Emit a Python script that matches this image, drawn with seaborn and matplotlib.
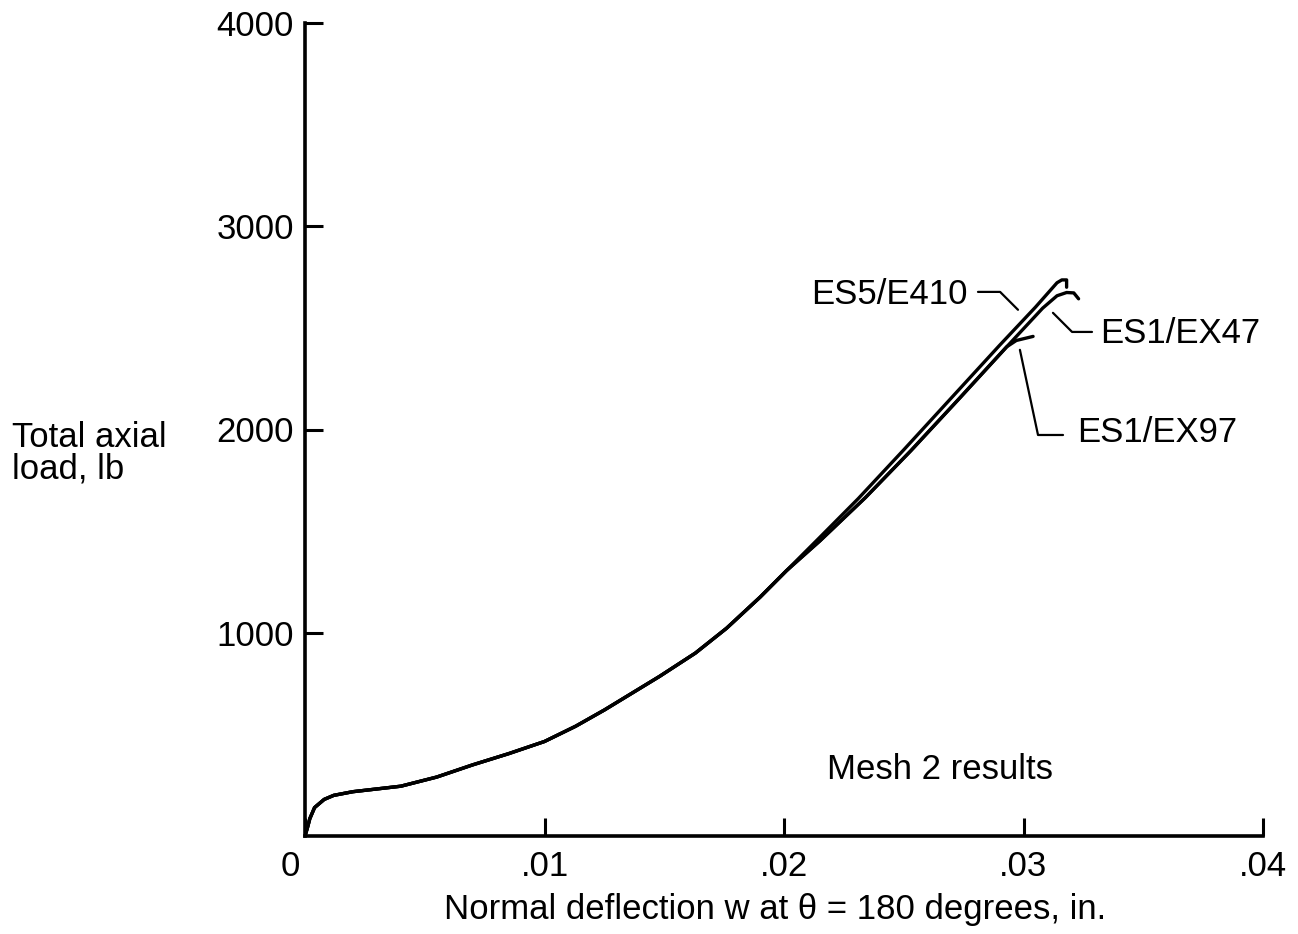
import numpy as np
import pandas as pd
import matplotlib
matplotlib.use("Agg")
import matplotlib.pyplot as plt
import matplotlib.transforms as mtransforms
import seaborn as sns

# --- data (deflection in inches, load in lb) ---
shared_w = [0.0, 0.0001, 0.0002, 0.0004, 0.0008, 0.0012, 0.002, 0.004, 0.0055,
            0.007, 0.0085, 0.010, 0.0113, 0.0125, 0.0148, 0.0163, 0.0176,
            0.019, 0.0201]
shared_p = [0, 40, 85, 140, 180, 200, 218, 245, 290,
            350, 405, 465, 540, 620, 785, 900, 1022,
            1175, 1305]

es5_w = [0.0215, 0.0231, 0.025, 0.027, 0.029, 0.0305, 0.0314, 0.0316, 0.0318, 0.0318]
es5_p = [1470, 1660, 1900, 2157, 2414, 2602, 2722, 2736, 2736, 2700]

ex47_w = [0.0215, 0.0234, 0.0253, 0.0273, 0.0293, 0.0308, 0.0314, 0.0318, 0.0321, 0.0323]
ex47_p = [1452, 1665, 1896, 2150, 2407, 2597, 2658, 2674, 2672, 2643]

ex97_w = [0.0215, 0.0234, 0.0253, 0.0273, 0.0293, 0.0297, 0.0304]
ex97_p = [1452, 1665, 1896, 2150, 2407, 2438, 2458]

cases = ["ES5/E410", "ES1/EX47", "ES1/EX97"]
x_ticks = [0, 0.01, 0.02, 0.03, 0.04]
x_tick_labels = ["0", ".01", ".02", ".03", ".04"]
y_ticks = [1000, 2000, 3000, 4000]

frames = []
for name, w, p in zip(cases, [es5_w, ex47_w, ex97_w], [es5_p, ex47_p, ex97_p]):
    frames.append(pd.DataFrame({"w": shared_w + w, "P": shared_p + p, "case": name}))
df = pd.concat(frames, ignore_index=True)

# --- plot ---
sns.set_style("ticks")
plt.rcParams["font.family"] = ["Liberation Sans", "DejaVu Sans"]
plt.rcParams["text.color"] = "black"
plt.rcParams["axes.labelcolor"] = "black"

fig = plt.figure(figsize=(12.98, 9.34), dpi=100)
ax = fig.add_axes([305 / 1298, 1 - 836 / 934, (1263 - 305) / 1298, (836 - 23) / 934])

sns.lineplot(data=df, x="w", y="P", hue="case", palette=["black"] * 3,
             estimator=None, sort=False, legend=False, linewidth=2.4, ax=ax)

ax.set_xlim(0, 0.04)
ax.set_ylim(0, 4000)
ax.set_xticks(x_ticks)
ax.set_xticklabels(x_tick_labels)
ax.set_yticks(y_ticks)
ax.set_yticklabels([str(v) for v in y_ticks])
sns.despine(ax=ax)
for s in ["left", "bottom"]:
    ax.spines[s].set_linewidth(2.6)
    ax.spines[s].set_color("black")
ax.tick_params(direction="in", length=13, width=2.2, labelsize=25, pad=8,
               colors="black", labelcolor="black")
ax.tick_params(axis="x", pad=10)

# shift the origin label a bit to the left like the original
lbl0 = ax.get_xticklabels()[0]
lbl0.set_transform(lbl0.get_transform() + mtransforms.ScaledTranslation(-15 / 100, 0, fig.dpi_scale_trans))

ax.set_xlabel("Normal deflection w at θ = 180 degrees, in.", fontsize=25, color="black")
ax.xaxis.set_label_coords((775 - 305) / 958, -(893 - 836) / 813)
ax.set_ylabel("")
fig.text(12 / 1298, 1 - 453 / 934, "Total axial\nload, lb", fontsize=25,
         ha="left", va="center", linespacing=0.95, color="black")

ax.text(0.0265, 325, "Mesh 2 results", fontsize=25, ha="center", va="center")

# case labels with leader lines
lead = dict(arrowstyle="-", color="black", lw=1.6, shrinkA=0, shrinkB=0)
ax.text(0.02768, 2665, "ES5/E410", fontsize=25, ha="right", va="center")
ax.annotate("", xy=(0.02977, 2589), xytext=(0.0281, 2677),
            arrowprops=dict(lead, connectionstyle="angle,angleA=0,angleB=135,rad=0"))

ax.text(0.03319, 2470, "ES1/EX47", fontsize=25, ha="left", va="center")
ax.annotate("", xy=(0.03123, 2574), xytext=(0.03286, 2480),
            arrowprops=dict(lead, connectionstyle="angle,angleA=0,angleB=-45,rad=0"))

ax.text(0.03223, 1983, "ES1/EX97", fontsize=25, ha="left", va="center")
ax.annotate("", xy=(0.02985, 2392), xytext=(0.03165, 1973),
            arrowprops=dict(lead, connectionstyle="angle,angleA=0,angleB=-78,rad=0"))

fig.savefig("out.png", dpi=100)
